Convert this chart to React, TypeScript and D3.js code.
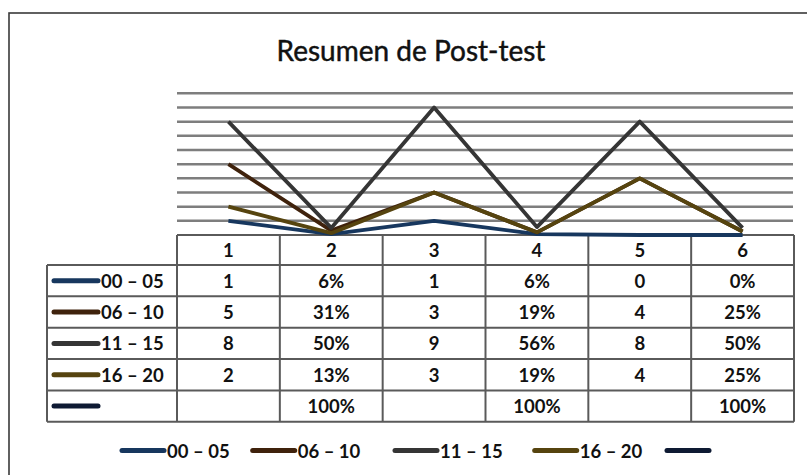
import React from "react";
import * as d3 from "d3";

const categories = ["1", "2", "3", "4", "5", "6"];
const seriesNames = ["00 – 05", "06 – 10", "11 – 15", "16 – 20", ""];
const s0005 = [1, 0.06, 1, 0.06, 0, 0];
const s0610 = [5, 0.31, 3, 0.19, 4, 0.25];
const s1115 = [8, 0.5, 9, 0.56, 8, 0.5];
const s1620 = [2, 0.13, 3, 0.19, 4, 0.25];
const sTotal: (number | null)[] = [null, 1, null, 1, null, 1];
const yTicks = [1, 2, 3, 4, 5, 6, 7, 8, 9, 10];
const title = "Resumen de Post-test";

const seriesValues: (number | null)[][] = [s0005, s0610, s1115, s1620, sTotal];
const colors = ["#17375e", "#3f220c", "#353535", "#56440f", "#0e1a33"];

const W = 807;
const H = 475;
const FONT = "Lato, 'Open Sans', sans-serif";

export default function App() {
  const x = d3.scaleBand<string>().domain(categories).range([177, 794]).padding(0);
  const y = d3.scaleLinear().domain([0, 10]).range([235, 93.3]);
  const cx = (c: string) => (x(c) as number) + x.bandwidth() / 2;

  const line = d3
    .line<number | null>()
    .defined((d) => d !== null)
    .x((_, i) => cx(categories[i]))
    .y((d) => y(d as number));

  const fmtPct = d3.format(".0%");
  const cellText = (v: number | null, i: number) =>
    v === null ? "" : i % 2 === 1 ? fmtPct(v) : String(v);

  const headerTop = 235;
  const headerBottom = 265;
  const rowH = 31.35;
  const tableLeft = 47;
  const tableRight = 794;
  const tableBottom = headerBottom + rowH * seriesNames.length;

  const legendXs = [120, 250.7, 393, 532.7, 665];
  const legendY = 450.5;

  return (
    <svg
      width={W}
      height={H}
      style={{ position: "absolute", left: 0, top: 0, background: "#fff" }}
      fontFamily={FONT}
    >
      <rect x={0} y={0} width={W} height={H} fill="#fff" />
      <rect x={9} y={13} width={820} height={500} fill="none" stroke="#3a3a3a" strokeWidth={1.6} />
      <text x={411} y={61} textAnchor="middle" fontSize={28} fill="#111" stroke="#111" strokeWidth={0.45}>
        {title}
      </text>

      {/* gridlines */}
      {yTicks.map((t) => (
        <line key={t} x1={177} x2={793} y1={y(t)} y2={y(t)} stroke="#7e7e7e" strokeWidth={2.5} />
      ))}

      {/* table */}
      <g stroke="#5a5a5a" strokeWidth={2} fill="none">
        <line x1={177} x2={tableRight} y1={headerTop} y2={headerTop} />
        <line x1={tableLeft} x2={tableRight} y1={headerBottom} y2={headerBottom} />
        {seriesNames.map((_, r) => (
          <line
            key={r}
            x1={tableLeft}
            x2={tableRight}
            y1={headerBottom + rowH * (r + 1)}
            y2={headerBottom + rowH * (r + 1)}
          />
        ))}
        <line x1={tableLeft} x2={tableLeft} y1={headerBottom} y2={tableBottom} />
        {categories.map((c) => (
          <line key={c} x1={x(c)} x2={x(c)} y1={headerTop} y2={tableBottom} />
        ))}
        <line x1={tableRight} x2={tableRight} y1={headerTop} y2={tableBottom} />
      </g>

      {/* header labels */}
      {categories.map((c) => (
        <text key={c} x={cx(c)} y={(headerTop + headerBottom) / 2 + 7} textAnchor="middle" fontSize={18.5} fontWeight={700} fill="#111">
          {c}
        </text>
      ))}

      {/* rows */}
      {seriesNames.map((name, r) => {
        const rc = headerBottom + rowH * r + rowH / 2;
        return (
          <g key={r}>
            <line x1={54} x2={98} y1={rc} y2={rc} stroke={colors[r]} strokeWidth={5} strokeLinecap="round" />
            <text x={101} y={rc + 7} fontSize={18.5} fontWeight={700} fill="#111">
              {name}
            </text>
            {seriesValues[r].map((v, i) => (
              <text
                key={i}
                x={cx(categories[i])}
                y={rc + 7}
                textAnchor="middle"
                fontSize={18.5}
                fontWeight={700}
                fill="#111"
              >
                {cellText(v, i)}
              </text>
            ))}
          </g>
        );
      })}

      {/* lines */}
      {seriesValues.map((vals, r) => (
        <path
          key={r}
          d={line(vals) || ""}
          fill="none"
          stroke={colors[r]}
          strokeWidth={3.8}
          strokeLinejoin="round"
        />
      ))}

      {/* legend */}
      {seriesNames.map((name, r) => (
        <g key={r}>
          <line
            x1={legendXs[r] + 2}
            x2={legendXs[r] + 44}
            y1={legendY}
            y2={legendY}
            stroke={colors[r]}
            strokeWidth={5}
            strokeLinecap="round"
          />
          <text x={legendXs[r] + 47} y={legendY + 7} fontSize={18.5} fontWeight={700} fill="#111">
            {name}
          </text>
        </g>
      ))}
    </svg>
  );
}
